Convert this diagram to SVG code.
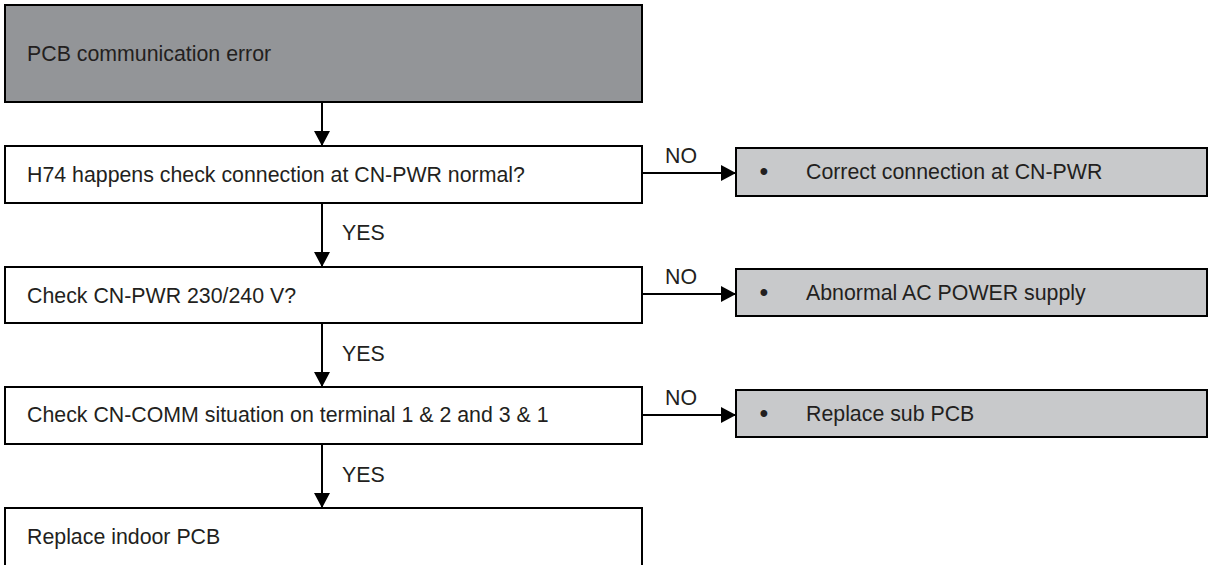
<svg xmlns="http://www.w3.org/2000/svg" width="1209" height="565" viewBox="0 0 1209 565">
<style>
text{font-family:"Liberation Sans",Arial,sans-serif;font-size:21.33px;fill:#231f20}
.box{fill:#fff;stroke:#000;stroke-width:2}
.start{fill:#939598;stroke:#000;stroke-width:2}
.res{fill:#c8c9cb;stroke:#000;stroke-width:2}
.con{stroke:#000;stroke-width:2;fill:none}
.b{text-anchor:middle;font-size:25px}
</style>
<defs>
<marker id="ah" viewBox="0 0 15 16" refX="15" refY="8" markerWidth="15" markerHeight="16" markerUnits="userSpaceOnUse" orient="auto">
<path d="M0,0 L15,8 L0,16 z" fill="#000"/>
</marker>
</defs>
<g id="connectors">
<line class="con" x1="322" y1="102" x2="322" y2="146" marker-end="url(#ah)"/>
<line class="con" x1="322" y1="203" x2="322" y2="267" marker-end="url(#ah)"/>
<line class="con" x1="322" y1="323" x2="322" y2="387" marker-end="url(#ah)"/>
<line class="con" x1="322" y1="444" x2="322" y2="508" marker-end="url(#ah)"/>
<line class="con" x1="642" y1="173" x2="736" y2="173" marker-end="url(#ah)"/>
<line class="con" x1="642" y1="294" x2="736" y2="294" marker-end="url(#ah)"/>
<line class="con" x1="642" y1="415" x2="736" y2="415" marker-end="url(#ah)"/>
<text x="342" y="240">YES</text>
<text x="342" y="361">YES</text>
<text x="342" y="482">YES</text>
<text x="665" y="163">NO</text>
<text x="665" y="284">NO</text>
<text x="665" y="405">NO</text>
</g>
<g id="n1"><rect class="start" x="5" y="5" width="637" height="97"/><text x="27" y="61">PCB communication error</text></g>
<g id="n2"><rect class="box" x="5" y="146" width="637" height="57"/><text x="27" y="182">H74 happens check connection at CN-PWR normal?</text></g>
<g id="n3"><rect class="box" x="5" y="267" width="637" height="56"/><text x="27" y="303">Check CN-PWR 230/240 V?</text></g>
<g id="n4"><rect class="box" x="5" y="387" width="637" height="57"/><text x="27" y="422">Check CN-COMM situation on terminal 1 &amp; 2 and 3 &amp; 1</text></g>
<g id="n5"><rect class="box" x="5" y="508" width="637" height="70"/><text x="27" y="544">Replace indoor PCB</text></g>
<g id="r1"><rect class="res" x="736" y="148" width="471" height="48"/><text class="b" x="764" y="180">•</text><text x="806" y="179">Correct connection at CN-PWR</text></g>
<g id="r2"><rect class="res" x="736" y="269" width="471" height="47"/><text class="b" x="764" y="301">•</text><text x="806" y="300">Abnormal AC POWER supply</text></g>
<g id="r3"><rect class="res" x="736" y="390" width="471" height="47"/><text class="b" x="764" y="422">•</text><text x="806" y="421">Replace sub PCB</text></g>
</svg>
